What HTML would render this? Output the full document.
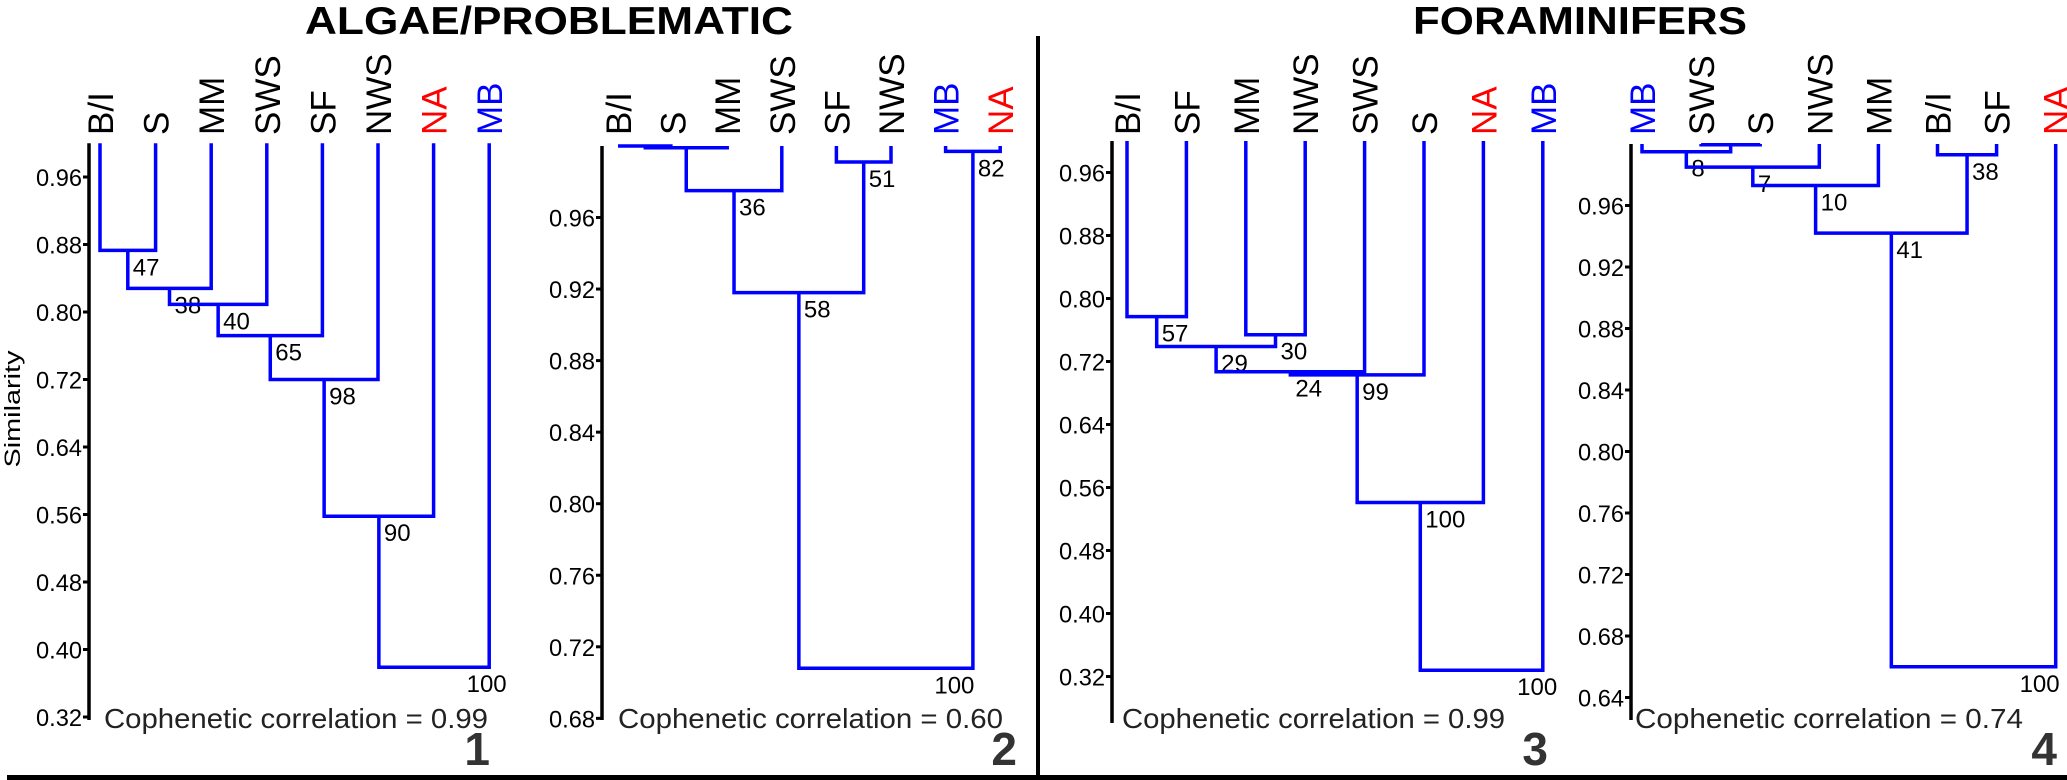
<!DOCTYPE html>
<html><head><meta charset="utf-8"><style>
html,body{margin:0;padding:0;background:#fff;}
svg{display:block;font-family:"Liberation Sans",sans-serif;}
</style></head><body>
<svg id="fig" width="2067" height="780" viewBox="0 0 2067 780" xmlns="http://www.w3.org/2000/svg">
<text x="549" y="34" font-size="39" font-weight="bold" text-anchor="middle" textLength="488" lengthAdjust="spacingAndGlyphs">ALGAE/PROBLEMATIC</text>
<text x="1580" y="34" font-size="39" font-weight="bold" text-anchor="middle" textLength="334" lengthAdjust="spacingAndGlyphs">FORAMINIFERS</text>
<rect x="1036" y="36" width="4" height="742" fill="#000"/>
<rect x="7" y="775" width="2060" height="5" fill="#000"/>
<text transform="translate(20,409) rotate(-90)" font-size="22" text-anchor="middle" textLength="117" lengthAdjust="spacingAndGlyphs">Similarity</text>
</svg>
<script>
// Panel 1 data
const leaves1 = ["B/I","S","MM","SWS","SF","NWS","NA","MB"];
const merges1 = [[0,1,0.873,47],[8,2,0.828,38],[9,3,0.809,40],[10,4,0.772,65],[11,5,0.72,98],[12,6,0.558,90],[13,7,0.379,100]];
const ticks1 = [0.96,0.88,0.80,0.72,0.64,0.56,0.48,0.40,0.32];
const coph1 = "0.99";
// Panel 2 data
const leaves2 = ["B/I","S","MM","SWS","SF","NWS","MB","NA"];
const merges2 = [[0,1,1.0,null],[8,2,0.999,null],[9,3,0.975,36],[4,5,0.991,51],[10,11,0.918,58],[6,7,0.997,82],[12,13,0.708,100]];
const ticks2 = [0.96,0.92,0.88,0.84,0.80,0.76,0.72,0.68];
const coph2 = "0.60";
// Panel 3 data
const leaves3 = ["B/I","SF","MM","NWS","SWS","S","NA","MB"];
const merges3 = [[0,1,0.777,57],[2,3,0.754,30],[8,9,0.739,29],[10,4,0.707,24],[11,5,0.703,99],[12,6,0.541,100],[13,7,0.328,100]];
const ticks3 = [0.96,0.88,0.80,0.72,0.64,0.56,0.48,0.40,0.32];
const coph3 = "0.99";
// Panel 4 data
const leaves4 = ["MB","SWS","S","NWS","MM","B/I","SF","NA"];
const merges4 = [[1,2,0.9995,null],[0,8,0.995,8],[9,3,0.985,7],[10,4,0.973,10],[5,6,0.993,38],[11,12,0.942,41],[13,7,0.660,100]];
const ticks4 = [0.96,0.92,0.88,0.84,0.80,0.76,0.72,0.68,0.64];
const coph4 = "0.74";

const NS = "http://www.w3.org/2000/svg";
const svg = document.getElementById('fig');
function mk(tag, attrs, parent){
  const e = document.createElementNS(NS, tag);
  for (const k in attrs) e.setAttribute(k, attrs[k]);
  (parent||svg).appendChild(e);
  return e;
}
const S = 1.5;
const panels = [
  {n:1, leaves:leaves1, merges:merges1, ticks:ticks1, coph:coph1, axisX:89, axisBot:480, x0:100, step:55.6, y1:95.5, k:562.5, cophX:104, cophW:384, numX:490},
  {n:2, leaves:leaves2, merges:merges2, ticks:ticks2, coph:coph2, axisX:602, axisBot:480, x0:618, step:54.6, y1:97.3, k:1192.5, cophX:618, cophW:385, numX:1017},
  {n:3, leaves:leaves3, merges:merges3, ticks:ticks3, coph:coph3, axisX:1112, axisBot:482, x0:1127, step:59.4, y1:94, k:525, cophX:1122, cophW:383, numX:1548},
  {n:4, leaves:leaves4, merges:merges4, ticks:ticks4, coph:coph4, axisX:1631, axisBot:480, x0:1642, step:59.1, y1:96, k:1025, cophX:1635, cophW:388, numX:2057}
];
function colorOf(name){ return name==="NA" ? "#ff0000" : (name==="MB" ? "#0000ff" : "#000"); }
panels.forEach(p=>{
  const g = mk('g', {});
  
  
  const yS = v => (p.y1 + (1 - v) * p.k) * S;
  const xS = i => p.x0 + i * p.step;
  const ax = mk('line', {x1:p.axisX, x2:p.axisX, y1:yS(1.0), y2:p.axisBot*S, stroke:'#000', 'stroke-width':3.5}, g);
  
  
  p.ticks.forEach(t=>{
    const y = yS(t);
    const tm = mk('line', {x1:p.axisX-6, x2:p.axisX, y1:y, y2:y, stroke:'#000', 'stroke-width':3}, g);
    
    
    const tl = mk('text', {x:p.axisX-7, y:y+9, 'font-size':24, 'text-anchor':'end', textLength:46, lengthAdjust:'spacingAndGlyphs'}, g);
    tl.textContent = t.toFixed(2);
    
    
  });
  const nx = p.leaves.map((_, i) => xS(i));
  const ny = p.leaves.map(() => yS(1.0));
  p.leaves.forEach((name, i)=>{
    const lt = mk('text', {transform:`translate(${xS(i)+13},135) rotate(-90)`, 'font-size':35, fill:colorOf(name)}, g);
    lt.textContent = name;
    
    
  });
  p.merges.forEach((m, mi)=>{
    const [a, b, h, boot] = m;
    const y = yS(h);
    const xa = nx[a], xb = nx[b];
    const path = mk('path', {d:`M${xa},${ny[a]} V${y} H${xb} V${ny[b]}`, fill:'none', stroke:'#0000ff', 'stroke-width':3.5}, g);
    
    
    const mid = (xa + xb) / 2;
    nx.push(mid); ny.push(y);
    if (boot !== null) {
      const isRoot = mi === p.merges.length - 1;
      const bl = isRoot
        ? mk('text', {x:(mid + xb)/2 + 25, y:y+25, 'font-size':24, 'text-anchor':'middle'}, g)
        : mk('text', {x:mid+5, y:y+25, 'font-size':24}, g);
      bl.textContent = boot;
      
      
    }
  });
  const ct = mk('text', {x:p.cophX, y:728, 'font-size':28, fill:'#222', textLength:p.cophW, lengthAdjust:'spacingAndGlyphs'}, g);
  ct.textContent = 'Cophenetic correlation = ' + p.coph;
  
  
  const pn = mk('text', {x:p.numX, y:765, 'font-size':46, 'font-weight':'bold', fill:'#333', 'text-anchor':'end'}, g);
  pn.textContent = String(p.n);
  
  
});
</script>
</body></html>
